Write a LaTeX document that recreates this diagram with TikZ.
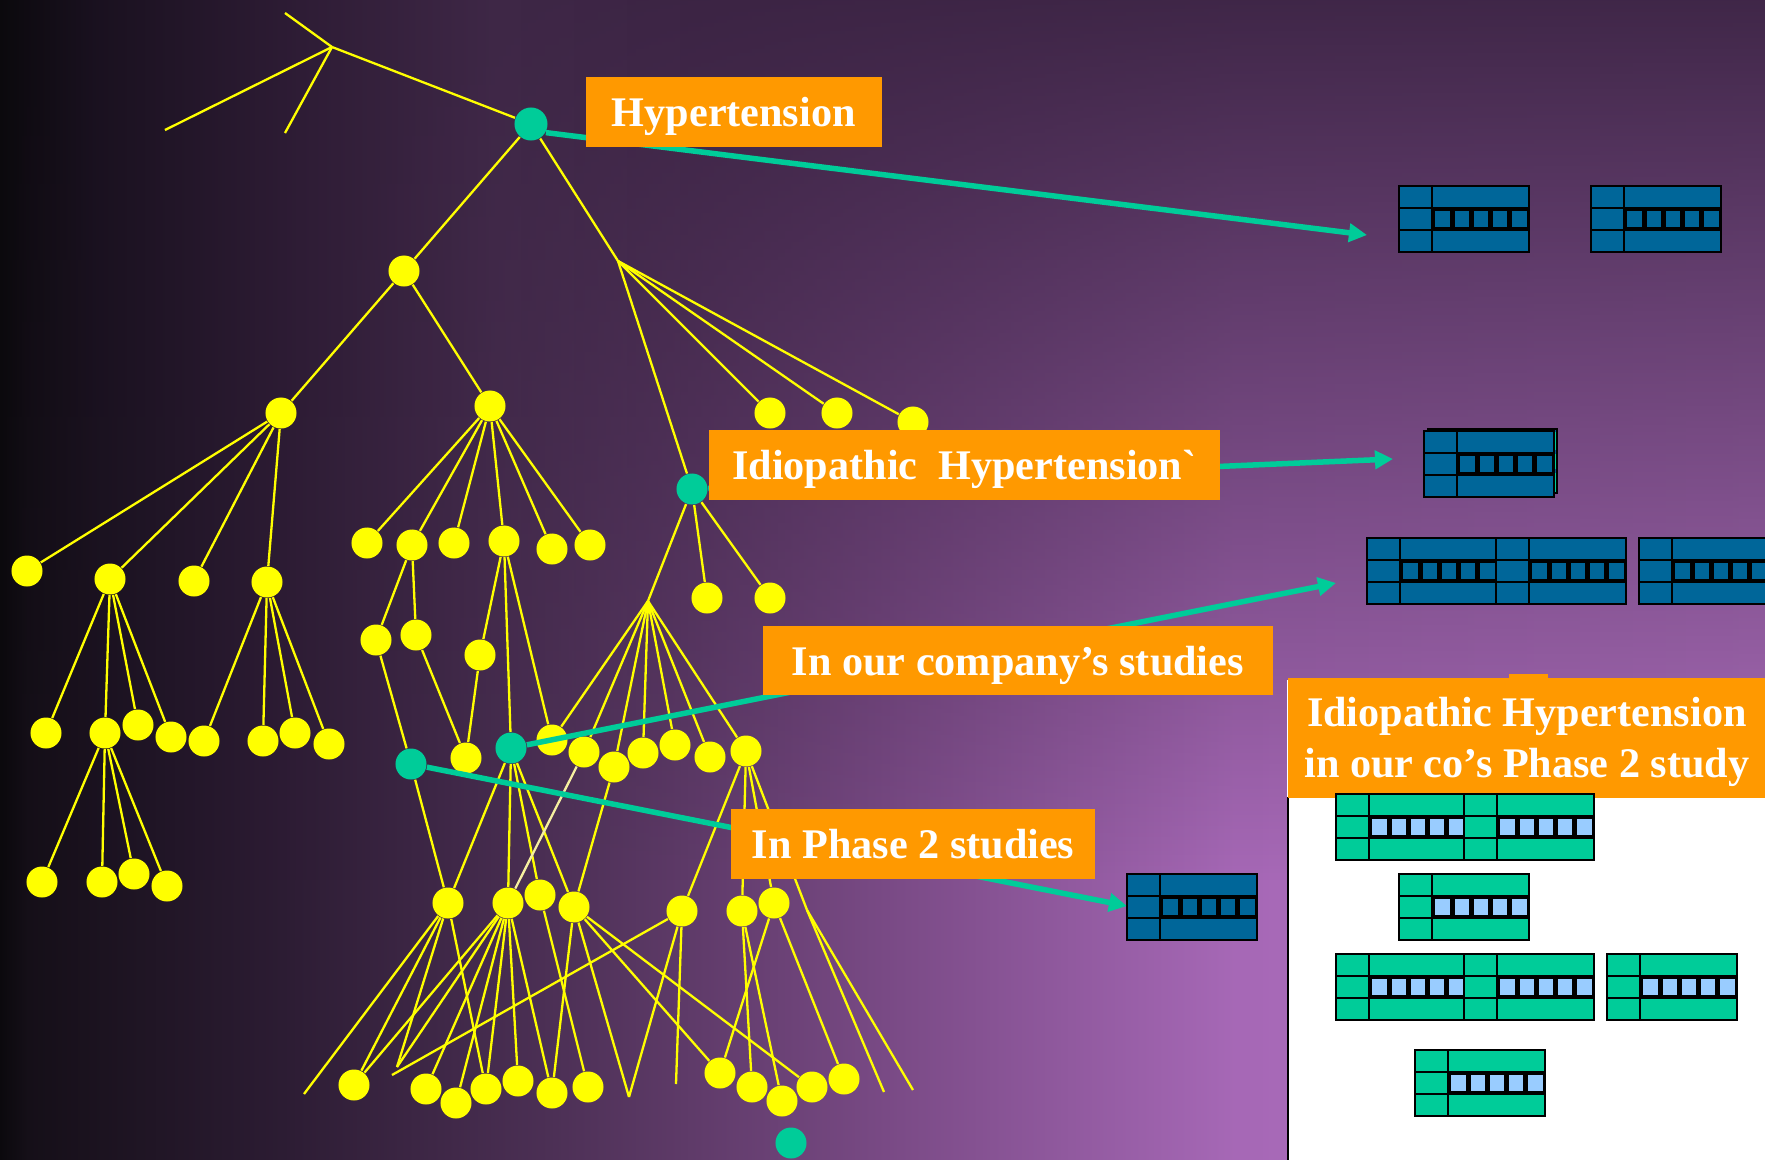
\documentclass[tikz,border=0pt]{standalone}
\usepackage{fontspec}
\newfontfamily\lblfont{Liberation Serif}[Ligatures=TeXOff]
\usetikzlibrary{arrows.meta,fadings}

\definecolor{nodeyellow}{HTML}{FFFF00}
\definecolor{paleyellow}{HTML}{F6F0A0}
\definecolor{keyteal}{HTML}{00CC99}
\definecolor{tagorange}{HTML}{FF9900}
\definecolor{tblblue}{HTML}{006699}
\definecolor{tblgreen}{HTML}{00CC99}
\definecolor{celllight}{HTML}{99CCFF}
% background, bottom row (left to right)
\definecolor{bgA}{HTML}{0B090D}
\definecolor{bgB}{HTML}{150F18}
\definecolor{bgC}{HTML}{2C1C33}
\definecolor{bgD}{HTML}{4E3157}
\definecolor{bgE}{HTML}{7B4B87}
\definecolor{bgF}{HTML}{A668B6}
\definecolor{bgG}{HTML}{B070C0}
% background, top row (left to right)
\definecolor{tpB}{HTML}{1A1120}
\definecolor{tpC}{HTML}{2E1C35}
\definecolor{tpD}{HTML}{3E2746}
\definecolor{tpE}{HTML}{3A2342}

\pgfdeclarehorizontalshading{bgbase}{100bp}{color(0bp)=(bgA); color(25bp)=(bgA); color(25.8bp)=(bgB); color(33bp)=(bgC); color(41bp)=(bgD); color(50.5bp)=(bgE); color(60bp)=(bgF); color(75bp)=(bgG); color(100bp)=(bgG)}
\pgfdeclarehorizontalshading{bgtop}{100bp}{color(0bp)=(bgA); color(25bp)=(bgA); color(27.8bp)=(tpB); color(33.5bp)=(tpC); color(39bp)=(tpD); color(45bp)=(tpE); color(100bp)=(tpE)}
\tikzfading[name=topdark, top color=transparent!5, middle color=transparent!70, bottom color=transparent!100]

\pgfdeclarelayer{bg}
\pgfdeclarelayer{edges}
\pgfdeclarelayer{conn}
\pgfdeclarelayer{top}
\pgfsetlayers{bg,edges,main,conn,top}

\tikzset{
  yedge/.style={draw=nodeyellow, line width=0.023cm},
  paleedge/.style={draw=paleyellow, line width=0.023cm},
  ynode/.style={circle, fill=nodeyellow, minimum size=0.31cm, inner sep=0pt},
  tnode/.style={circle, fill=keyteal, minimum size=0.31cm, inner sep=0pt},
  link/.style={draw=keyteal, line width=0.055cm, -{Triangle[length=0.18cm, width=0.18cm]}},
  tag/.style={fill=tagorange, text=white, inner sep=0pt, anchor=north west, text depth=0pt,
    font=\lblfont\bfseries\fontsize{12pt}{14.5pt}\selectfont},
  pics/datatable/.style 2 args={code={
    \fill[#1] (0,0) rectangle (130,66);
    \fill[black] (33,22) rectangle (130,44);
    \foreach \k in {0,...,4}{\fill[#2] ({36.3+19.2*\k},25) rectangle ++(14.4,16);}
    \draw[black, line width=0.02cm] (0,22) -- (130,22) (0,44) -- (130,44) (33,0) -- (33,66);
    \draw[black, line width=0.025cm] (0,0) rectangle (130,66);
  }}
}

\begin{document}
\begin{tikzpicture}[x=0.01cm, y=-0.01cm]
\useasboundingbox (0,0) rectangle (1765,1160);

% backdrop
\begin{pgfonlayer}{bg}
  \shade[shading=bgbase] (0,0) rectangle (1765,1160);
  \shade[shading=bgtop, path fading=topdark] (0,0) rectangle (1765,880);
  \fill[white] (1287,680) rectangle (1765,1160);
  \draw[black, line width=0.025cm] (1288,797) -- (1288,1160);
\end{pgfonlayer}

% free ends and branching points
\coordinate (t1) at (285,13);
\coordinate (J0) at (332,47);
\coordinate (t2) at (165,130);
\coordinate (t3) at (285,133);
\coordinate (R) at (618,261);
\coordinate (K) at (648,601);
\coordinate (J2) at (807,910);
\coordinate (f1) at (304,1094);
\coordinate (v1) at (397,1067);
\coordinate (v2) at (392,1075);
\coordinate (f2) at (629,1097);
\coordinate (f3) at (676,1084);
\coordinate (f4) at (884,1092);
\coordinate (f5) at (913,1090);

% tree nodes
\node[tnode, minimum size=0.33cm] (H) at (531,124) {};
\node[ynode] (A) at (404,271) {};
\node[ynode] (r1) at (770,413) {};
\node[ynode] (r2) at (837,413) {};
\node[ynode] (r3) at (913,422) {};
\node[tnode] (I) at (692,489) {};
\node[ynode] (i1) at (707,598) {};
\node[ynode] (i2) at (770,598) {};
\node[ynode] (B) at (281,413) {};
\node[ynode] (C) at (490,406) {};
\node[ynode] (b1) at (27,571) {};
\node[ynode] (b2) at (110,579) {};
\node[ynode] (b3) at (194,581) {};
\node[ynode] (b4) at (267,582) {};
\node[ynode] (b21) at (46,733) {};
\node[ynode] (b22) at (105,733) {};
\node[ynode] (b23) at (138,725) {};
\node[ynode] (b24) at (171,737) {};
\node[ynode] (b41) at (204,741) {};
\node[ynode] (b42) at (263,741) {};
\node[ynode] (b43) at (295,733) {};
\node[ynode] (b44) at (329,744) {};
\node[ynode] (b221) at (42,882) {};
\node[ynode] (b222) at (102,882) {};
\node[ynode] (b223) at (134,874) {};
\node[ynode] (b224) at (167,886) {};
\node[ynode] (c1) at (367,543) {};
\node[ynode] (c2) at (412,545) {};
\node[ynode] (c3) at (454,543) {};
\node[ynode] (c4) at (504,541) {};
\node[ynode] (c5) at (552,549) {};
\node[ynode] (c6) at (590,545) {};
\node[ynode] (m1) at (376,640) {};
\node[ynode] (m2) at (416,635) {};
\node[ynode] (m3) at (480,655) {};
\node[ynode] (m4) at (466,758) {};
\node[tnode] (P) at (411,764) {};
\node[tnode] (Q) at (511,748) {};
\node[ynode] (n1) at (552,740) {};
\node[ynode] (n2) at (584,752) {};
\node[ynode] (n3) at (614,767) {};
\node[ynode] (n4) at (643,753) {};
\node[ynode] (n5) at (675,745) {};
\node[ynode] (n6) at (710,757) {};
\node[ynode] (n7) at (746,751) {};
\node[ynode] (l1) at (448,903) {};
\node[ynode] (l2) at (508,903) {};
\node[ynode] (l3) at (540,895) {};
\node[ynode] (l4) at (574,907) {};
\node[ynode] (l5) at (682,911) {};
\node[ynode] (l6) at (742,911) {};
\node[ynode] (l7) at (774,903) {};
\node[ynode] (d1) at (354,1085) {};
\node[ynode] (d2) at (426,1089) {};
\node[ynode] (d3) at (456,1103) {};
\node[ynode] (d4) at (486,1089) {};
\node[ynode] (d5) at (518,1081) {};
\node[ynode] (d6) at (552,1093) {};
\node[ynode] (d7) at (588,1087) {};
\node[ynode] (e1) at (720,1073) {};
\node[ynode] (e2) at (752,1087) {};
\node[ynode] (e3) at (782,1101) {};
\node[ynode] (e4) at (812,1087) {};
\node[ynode] (e5) at (844,1079) {};
\node[tnode] (z) at (791,1143) {};

% tree edges
\begin{pgfonlayer}{edges}
  \foreach \a/\b in {t1/J0, J0/t2, J0/t3, J0/H, H/A, H/R, R/r1, R/r2, R/r3, R/I,
      I/i1, I/i2, I/K, A/B, A/C, B/b1, B/b2, B/b3, B/b4,
      b2/b21, b2/b22, b2/b23, b2/b24, b4/b41, b4/b42, b4/b43, b4/b44,
      b22/b221, b22/b222, b22/b223, b22/b224,
      C/c1, C/c2, C/c3, C/c4, C/c5, C/c6, c2/m1, c2/m2, c4/m3, c4/Q, c4/n1,
      m1/P, m2/m4, m3/m4,
      K/n1, K/n2, K/n3, K/n4, K/n5, K/n6, K/n7,
      P/l1, Q/l1, Q/l2, Q/l3, Q/l4, n3/l4, n7/l5, n7/l6, n7/l7, n7/J2,
      l1/f1, l1/d1, l1/v1, l1/d4,
      l2/d1, l2/v1, l2/d2, l2/d3, l2/d4, l2/d5, l2/d6,
      l3/d7, l4/d6, l4/f2, l4/e1, l4/e4,
      l5/f2, l5/f3, l5/v2, l6/e2, l6/e3, l7/e1, l7/e5, J2/f4, J2/f5}
    \draw[yedge] (\a) -- (\b);
  \draw[paleedge] (n2) -- (l2);
\end{pgfonlayer}

% arrow targets
\coordinate (aH) at (1367,235);
\coordinate (aI) at (1393,459);
\coordinate (aQ) at (1336,583);
\coordinate (aP) at (1127,906);

\begin{pgfonlayer}{conn}
  \draw[link] (H.-30) -- (aH);
  \draw[link] (I) -- (aI);
  \draw[link] (Q) -- (aQ);
  \draw[link] (P) -- (aP);
\end{pgfonlayer}

\begin{pgfonlayer}{top}
  % labels
  \node[tag, minimum width=2.96cm, minimum height=0.695cm] (hyp) at (585,76.5) {Hypertension};
  \node[tag, minimum width=5.11cm, minimum height=0.70cm] (idio) at (708,429) {Idiopathic\ \ Hypertension`};
  \node[tag, minimum width=5.10cm, minimum height=0.695cm] (comp) at (762,625) {In our company’s studies};
  \node[tag, minimum width=3.635cm, minimum height=0.70cm] (ph2) at (730.6,808) {In Phase 2 studies};
  \fill[tagorange] (1509,674) rectangle (1548,678);
  \node[tag, minimum width=4.78cm, minimum height=1.20cm, align=center] (big) at (1287,677) {Idiopathic Hypertension\\in our co’s Phase 2 study};

  % record tables, all data
  \pic at (1399,186) {datatable={tblblue}{tblblue}};
  \pic at (1591,186) {datatable={tblblue}{tblblue}};
  \filldraw[fill=tblblue, draw=black, line width=0.025cm] (1428,429) rectangle (1557,493);
  \draw[keyteal, line width=0.015cm] (1555,432) -- (1555,450) (1555,454) -- (1555,469) (1555,473) -- (1555,492);
  \pic at (1424,431) {datatable={tblblue}{tblblue}};
  \pic at (1367,538) {datatable={tblblue}{tblblue}};
  \pic at (1496,538) {datatable={tblblue}{tblblue}};
  \pic at (1639,538) {datatable={tblblue}{tblblue}};
  \pic at (1127,874) {datatable={tblblue}{tblblue}};

  % record tables, phase 2 subset
  \pic at (1336,794) {datatable={tblgreen}{celllight}};
  \pic at (1464,794) {datatable={tblgreen}{celllight}};
  \pic at (1399,874) {datatable={tblgreen}{celllight}};
  \pic at (1336,954) {datatable={tblgreen}{celllight}};
  \pic at (1464,954) {datatable={tblgreen}{celllight}};
  \pic at (1607,954) {datatable={tblgreen}{celllight}};
  \pic at (1415,1050) {datatable={tblgreen}{celllight}};
\end{pgfonlayer}
\end{tikzpicture}
\end{document}
